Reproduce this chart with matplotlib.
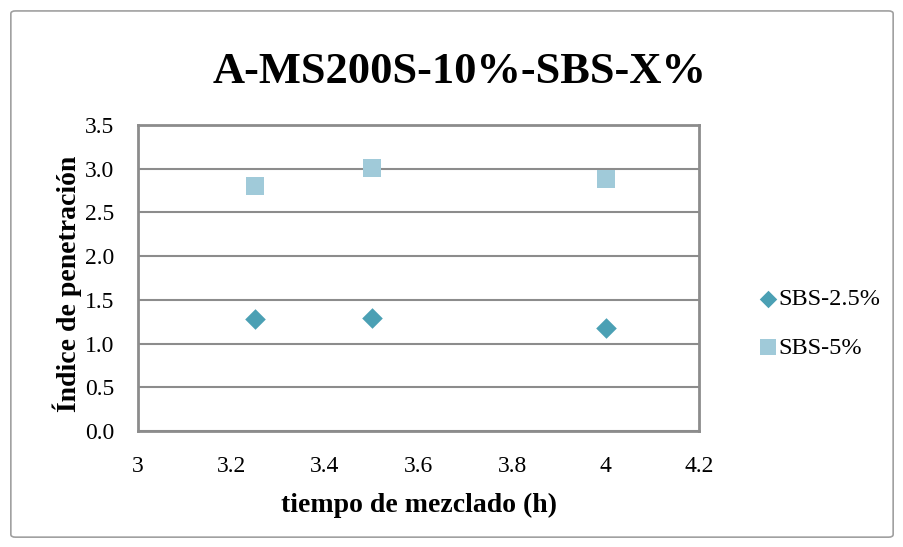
import matplotlib.pyplot as plt
from matplotlib.patches import FancyBboxPatch

# datos
tiempo = [3.25, 3.5, 4.0]
sbs_25 = [1.28, 1.29, 1.18]
sbs_5 = [2.80, 3.01, 2.88]

serif = 'Liberation Serif'

fig = plt.figure(figsize=(9.04, 5.47), dpi=100)

# marco exterior del gráfico
marco = FancyBboxPatch((0.012, 0.018), 0.976, 0.962, boxstyle="round,pad=0,rounding_size=0.005",
                       transform=fig.transFigure, fill=False, edgecolor='#a0a0a0', linewidth=1.2)
fig.patches.append(marco)

ax = fig.add_axes([0.1527, 0.2121, 0.6206, 0.5595])
ax.scatter(tiempo, sbs_25, marker='D', s=110, color='#4ba0b4', label='SBS-2.5%', zorder=3, linewidths=0)
ax.scatter(tiempo, sbs_5, marker='s', s=175, color='#a0cad9', label='SBS-5%', zorder=3, linewidths=0)

ax.set_xlim(3, 4.2)
ax.set_ylim(0, 3.5)
ax.set_xticks([3, 3.2, 3.4, 3.6, 3.8, 4, 4.2])
ax.set_xticklabels(['3', '3.2', '3.4', '3.6', '3.8', '4', '4.2'])
ax.set_yticks([0, 0.5, 1, 1.5, 2, 2.5, 3, 3.5])
ax.set_yticklabels(['0.0', '0.5', '1.0', '1.5', '2.0', '2.5', '3.0', '3.5'])
ax.tick_params(length=0, labelsize=17)
ax.tick_params(axis='x', pad=18)
ax.tick_params(axis='y', pad=17)
for lab in ax.get_xticklabels() + ax.get_yticklabels():
    lab.set_family(serif)
ax.grid(axis='y', color='#8c8c8c', linewidth=1.5)
ax.set_axisbelow(True)
for s in ax.spines.values():
    s.set_color('#8c8c8c')
    s.set_linewidth(2)

ax.set_xlabel('tiempo de mezclado (h)', family=serif, fontweight='bold', fontsize=20)
ax.set_ylabel('Índice de penetración', family=serif, fontweight='bold', fontsize=20)
ax.xaxis.set_label_coords(0.5, -0.242)
ax.xaxis.label.set_va('center')
ax.yaxis.set_label_coords(-0.127, 0.482)
ax.yaxis.label.set_va('center')

fig.text(0.508, 0.868, 'A-MS200S-10%-SBS-X%', ha='center', va='center',
         family=serif, fontweight='bold', fontsize=32)

fig.legend(loc='center left', bbox_to_anchor=(0.815, 0.409), frameon=False,
           prop={'family': serif, 'size': 17.5}, handlelength=0.8, handletextpad=0.0,
           labelspacing=1.1, markerscale=0.85)

fig.savefig('out.png', dpi=100)
